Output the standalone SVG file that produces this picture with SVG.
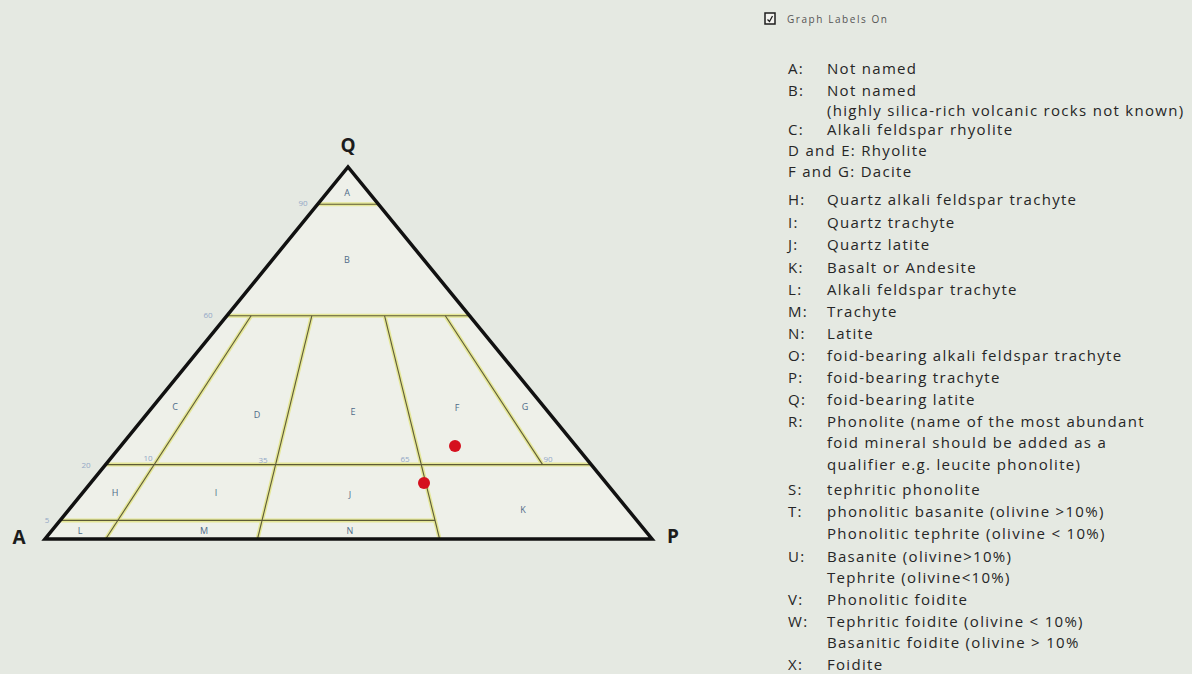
<svg xmlns="http://www.w3.org/2000/svg" width="1192" height="674" viewBox="0 0 1192 674">
<style>
.glow{stroke:#e2e47c;stroke-width:4;fill:none;stroke-linecap:butt;opacity:0.75}
.fl{stroke:#5e5b36;stroke-width:1.1;fill:none}
.lab{font-family:"Open Sans","Liberation Sans",sans-serif;font-size:9px;fill:#4f6b88;text-anchor:middle}
.num{font-family:"Open Sans","Liberation Sans",sans-serif;font-size:8px;fill:#93a8c6;text-anchor:middle}
.vtx{font-family:"Open Sans","Liberation Sans",sans-serif;font-size:19px;font-weight:bold;fill:#1c1c1c;text-anchor:middle}
.lg{font-family:"Open Sans","Liberation Sans",sans-serif;font-size:15px;letter-spacing:1.3px;fill:#262626}
</style>
<rect x="0" y="0" width="1192" height="674" fill="#e5e9e2"/>
<g id="diagram">
<polygon points="45,539 652,539 348,167" fill="#eef0e9"/>
<g id="field-lines">
<g class="glow">
<line x1="318" y1="204.2" x2="378.4" y2="204.2"/>
<line x1="226.8" y1="315.8" x2="469.6" y2="315.8"/>
<line x1="105.6" y1="464.6" x2="591.2" y2="464.6"/>
<line x1="60.2" y1="520.4" x2="435" y2="520.4"/>
<line x1="251.1" y1="315.8" x2="105.7" y2="539"/>
<line x1="311.8" y1="315.8" x2="257.5" y2="539"/>
<line x1="384.6" y1="315.8" x2="439.6" y2="539"/>
<line x1="445.3" y1="315.8" x2="542.6" y2="464.6"/>
</g>
<g class="fl">
<line x1="318" y1="204.2" x2="378.4" y2="204.2"/>
<line x1="226.8" y1="315.8" x2="469.6" y2="315.8"/>
<line x1="105.6" y1="464.6" x2="591.2" y2="464.6"/>
<line x1="60.2" y1="520.4" x2="435" y2="520.4"/>
<line x1="251.1" y1="315.8" x2="105.7" y2="539"/>
<line x1="311.8" y1="315.8" x2="257.5" y2="539"/>
<line x1="384.6" y1="315.8" x2="439.6" y2="539"/>
<line x1="445.3" y1="315.8" x2="542.6" y2="464.6"/>
</g>
</g>
<polygon points="45,539 652,539 348,167" fill="none" stroke="#111" stroke-width="3.5" stroke-linejoin="miter"/>
<g id="field-labels">
<text class="lab" x="347" y="196">A</text>
<text class="lab" x="347" y="263">B</text>
<text class="lab" x="175" y="410">C</text>
<text class="lab" x="257" y="418">D</text>
<text class="lab" x="353" y="415">E</text>
<text class="lab" x="457" y="411">F</text>
<text class="lab" x="525" y="410">G</text>
<text class="lab" x="115" y="496">H</text>
<text class="lab" x="216" y="496">I</text>
<text class="lab" x="350" y="498">J</text>
<text class="lab" x="523" y="513">K</text>
<text class="lab" x="80" y="534">L</text>
<text class="lab" x="204" y="534">M</text>
<text class="lab" x="350" y="534">N</text>
</g>
<g id="scale-numbers">
<text class="num" x="303" y="206">90</text>
<text class="num" x="208" y="318">60</text>
<text class="num" x="86" y="468">20</text>
<text class="num" x="47" y="523">5</text>
<text class="num" x="148" y="461">10</text>
<text class="num" x="263" y="463">35</text>
<text class="num" x="405" y="462">65</text>
<text class="num" x="548" y="462">90</text>
</g>
<g id="vertices">
<text class="vtx" x="348" y="152">Q</text>
<text class="vtx" x="19" y="544">A</text>
<text class="vtx" x="673" y="543">P</text>
</g>
<g id="samples" fill="#d5101e">
<circle cx="455" cy="446" r="6"/>
<circle cx="424" cy="483" r="6"/>
</g>
</g>
<g id="legend">
<g id="checkbox">
<rect x="765" y="13" width="10" height="11" fill="#f4f4f0" stroke="#1e1e1e" stroke-width="1.5"/>
<path d="M767.5,19.5 L769.5,21.5 L772.5,16" fill="none" stroke="#1e1e1e" stroke-width="1.3"/>
<text x="787" y="23" font-family="'Open Sans','Liberation Sans',sans-serif" font-size="10" fill="#555" textLength="100">Graph Labels On</text>
</g>
<g class="lg">
<text x="788" y="74">A:</text><text x="827" y="74">Not named</text>
<text x="788" y="96">B:</text><text x="827" y="96">Not named</text>
<text x="827" y="116">(highly silica-rich volcanic rocks not known)</text>
<text x="788" y="135">C:</text><text x="827" y="135">Alkali feldspar rhyolite</text>
<text x="788" y="156">D and E: Rhyolite</text>
<text x="788" y="177">F and G: Dacite</text>
<text x="788" y="205">H:</text><text x="827" y="205">Quartz alkali feldspar trachyte</text>
<text x="788" y="228">I:</text><text x="827" y="228">Quartz trachyte</text>
<text x="788" y="250">J:</text><text x="827" y="250">Quartz latite</text>
<text x="788" y="273">K:</text><text x="827" y="273">Basalt or Andesite</text>
<text x="788" y="295">L:</text><text x="827" y="295">Alkali feldspar trachyte</text>
<text x="788" y="317">M:</text><text x="827" y="317">Trachyte</text>
<text x="788" y="339">N:</text><text x="827" y="339">Latite</text>
<text x="788" y="361">O:</text><text x="827" y="361">foid-bearing alkali feldspar trachyte</text>
<text x="788" y="383">P:</text><text x="827" y="383">foid-bearing trachyte</text>
<text x="788" y="405">Q:</text><text x="827" y="405">foid-bearing latite</text>
<text x="788" y="427">R:</text><text x="827" y="427">Phonolite (name of the most abundant</text>
<text x="827" y="448">foid mineral should be added as a</text>
<text x="827" y="470">qualifier e.g. leucite phonolite)</text>
<text x="788" y="495">S:</text><text x="827" y="495">tephritic phonolite</text>
<text x="788" y="517">T:</text><text x="827" y="517">phonolitic basanite (olivine &gt;10%)</text>
<text x="827" y="539">Phonolitic tephrite (olivine &lt; 10%)</text>
<text x="788" y="562">U:</text><text x="827" y="562">Basanite (olivine&gt;10%)</text>
<text x="827" y="583">Tephrite (olivine&lt;10%)</text>
<text x="788" y="605">V:</text><text x="827" y="605">Phonolitic foidite</text>
<text x="788" y="627">W:</text><text x="827" y="627">Tephritic foidite (olivine &lt; 10%)</text>
<text x="827" y="648">Basanitic foidite (olivine &gt; 10%</text>
<text x="788" y="670">X:</text><text x="827" y="670">Foidite</text>
</g>
</g>
</svg>
